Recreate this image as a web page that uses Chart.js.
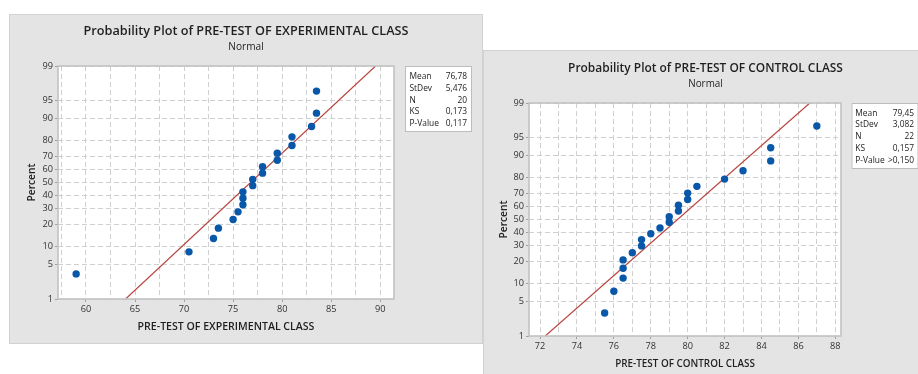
<!DOCTYPE html>
<html>
<head>
<meta charset="utf-8">
<script src="https://cdn.jsdelivr.net/npm/chart.js@4/dist/chart.umd.min.js"></script>
<style>
  html, body { margin: 0; padding: 0; background: #ffffff; }
  body { width: 918px; height: 374px; position: relative; overflow: hidden; }
  .panel { position: absolute; background: #e4e4e4; box-shadow: inset 0 0 0 1px #d2d2d2; }
  #p1 { left: 9px; top: 14px; width: 474px; height: 330px; }
  #p2 { left: 483px; top: 50px; width: 440px; height: 330px; }
  canvas { position: absolute; left: 0; top: 0; }
</style>
</head>
<body>
<div class="panel" id="p1"><canvas id="c1" width="474" height="330"></canvas></div>
<div class="panel" id="p2"><canvas id="c2" width="435" height="324"></canvas></div>
<script>
// ---------------- data ----------------
const percentTicks = [1, 5, 10, 20, 30, 40, 50, 60, 70, 80, 90, 95, 99];

// Experimental class
const expX   = [59, 70.5, 73, 73.5, 75, 75.5, 76, 76, 76, 77, 77, 78, 78, 79.5, 79.5, 81, 81, 83, 83.5, 83.5];
const expPct = [3.4, 8.3, 13.2, 18.1, 23.0, 27.9, 32.8, 37.7, 42.6, 47.5, 52.5, 57.4, 62.3, 67.2, 72.1, 77.0, 81.9, 86.8, 91.7, 96.6];
const expFitX = [64.04, 89.52];
const expFitPct = [1, 99];
const expXLabels = [60, 65, 70, 75, 80, 85, 90];
const expXGrid = [57.5, 60, 62.5, 65, 67.5, 70, 72.5, 75, 77.5, 80, 82.5, 85, 87.5, 90];
const expStatNames = ['Mean', 'StDev', 'N', 'KS', 'P-Value'];
const expStatValues = ['76,78', '5,476', '20', '0,173', '0,117'];

// Control class
const ctlX   = [75.5, 76, 76.5, 76.5, 76.5, 77, 77.5, 77.5, 78, 78.5, 79, 79, 79.5, 79.5, 80, 80, 80.5, 82, 83, 84.5, 84.5, 87];
const ctlPct = [3.1, 7.6, 12.1, 16.5, 21.0, 25.4, 29.9, 34.4, 38.8, 43.3, 47.8, 52.2, 56.7, 61.2, 65.6, 70.1, 74.6, 79.0, 83.5, 87.9, 92.4, 96.9];
const ctlFitX = [72.28, 86.62];
const ctlFitPct = [1, 99];
const ctlXLabels = [72, 74, 76, 78, 80, 82, 84, 86, 88];
const ctlXGrid = [72, 73, 74, 75, 76, 77, 78, 79, 80, 81, 82, 83, 84, 85, 86, 87, 88];
const ctlStatNames = ['Mean', 'StDev', 'N', 'KS', 'P-Value'];
const ctlStatValues = ['79,45', '3,082', '22', '0,157', '>0,150'];

// ---------------- normal probability scale ----------------
function probit(p) {
  const a=[-3.969683028665376e+01,2.209460984245205e+02,-2.759285104469687e+02,1.383577518672690e+02,-3.066479806614716e+01,2.506628277459239e+00];
  const b=[-5.447609879822406e+01,1.615858368580409e+02,-1.556989798598866e+02,6.680131188771972e+01,-1.328068155288572e+01];
  const c=[-7.784894002430293e-03,-3.223964580411365e-01,-2.400758277161838e+00,-2.549732539343734e+00,4.374664141464968e+00,2.938163982698783e+00];
  const d=[7.784695709041462e-03,3.224671290700398e-01,2.445134137142996e+00,3.754408661907416e+00];
  const pl = 0.02425, ph = 1 - pl;
  let q, r;
  if (p < pl) { q = Math.sqrt(-2*Math.log(p)); return (((((c[0]*q+c[1])*q+c[2])*q+c[3])*q+c[4])*q+c[5])/((((d[0]*q+d[1])*q+d[2])*q+d[3])*q+1); }
  if (p > ph) { q = Math.sqrt(-2*Math.log(1-p)); return -(((((c[0]*q+c[1])*q+c[2])*q+c[3])*q+c[4])*q+c[5])/((((d[0]*q+d[1])*q+d[2])*q+d[3])*q+1); }
  q = p - 0.5; r = q*q;
  return (((((a[0]*r+a[1])*r+a[2])*r+a[3])*r+a[4])*r+a[5])*q/(((((b[0]*r+b[1])*r+b[2])*r+b[3])*r+b[4])*r+1);
}
function ncdf(z) {
  const t = 1/(1+0.2316419*Math.abs(z));
  const y = t*(0.319381530+t*(-0.356563782+t*(1.781477937+t*(-1.821255978+t*1.330274429))));
  const v = 1 - Math.exp(-z*z/2)/Math.sqrt(2*Math.PI)*y;
  return z >= 0 ? v : 1 - v;
}
class ProbitScale extends Chart.Scale {
  determineDataLimits() { this.min = this.options.min; this.max = this.options.max; }
  buildTicks() { return percentTicks.map(v => ({ value: v })); }
  getLabelForValue(v) { return String(v); }
  configure() {
    super.configure();
    this._zmin = probit(this.min / 100);
    this._zmax = probit(this.max / 100);
  }
  getPixelForValue(v) {
    return this.getPixelForDecimal((probit(v / 100) - this._zmin) / (this._zmax - this._zmin));
  }
  getValueForPixel(px) {
    const dec = this.getDecimalForPixel(px);
    return 100 * ncdf(this._zmin + dec * (this._zmax - this._zmin));
  }
  getPixelForTick(i) { return this.getPixelForValue(this.ticks[i].value); }
}
ProbitScale.id = 'probit';
ProbitScale.defaults = {};
Chart.register(ProbitScale);

// ---------------- helpers ----------------
const FAMILY = '"Open Sans", "Noto Sans", sans-serif';
const mctx = document.createElement('canvas').getContext('2d');
function fitSize(text, weight, target) {
  mctx.font = weight + ' 100px ' + FAMILY;
  return 100 * target / mctx.measureText(text).width;
}

const decor = {
  id: 'decor',
  beforeDraw(chart, args, o) {
    const { ctx, chartArea: a } = chart;
    ctx.save();
    ctx.fillStyle = '#ffffff';
    ctx.fillRect(a.left, a.top, a.right - a.left, a.bottom - a.top);
    ctx.restore();
  },
  afterDraw(chart, args, o) {
    const { ctx, chartArea: a } = chart;
    ctx.save();
    ctx.strokeStyle = '#c2c2c2';
    ctx.lineWidth = 1.6;
    ctx.strokeRect(a.left, a.top, a.right - a.left, a.bottom - a.top);
    // title + subtitle
    ctx.fillStyle = '#1f1f1f';
    ctx.textAlign = 'center';
    ctx.textBaseline = 'middle';
    ctx.font = '600 ' + fitSize(o.title, 600, o.titleW).toFixed(2) + 'px ' + FAMILY;
    ctx.fillText(o.title, o.titleX, o.titleY);
    ctx.font = '500 ' + fitSize('Normal', 500, o.subW).toFixed(2) + 'px ' + FAMILY;
    ctx.fillText('Normal', o.titleX, o.subY);
    // stats box
    const b = o.box;
    ctx.fillStyle = '#ffffff';
    ctx.fillRect(b.x, b.y, b.w, b.h);
    ctx.strokeStyle = '#bdbdbd';
    ctx.lineWidth = 1;
    ctx.strokeRect(b.x + 0.5, b.y + 0.5, b.w - 1, b.h - 1);
    ctx.fillStyle = '#222222';
    ctx.font = '400 8.4px ' + FAMILY;
    o.names.forEach((n, i) => {
      const y = b.row0 + i * b.step;
      ctx.textAlign = 'left';
      ctx.fillText(n, b.labelX, y);
      ctx.textAlign = 'right';
      ctx.fillText(o.values[i], b.valueR, y);
    });
    ctx.restore();
  }
};

function makeChart(id, cfg) {
  const labelSet = cfg.xLabels;
  const xTitleSize = fitSize(cfg.xTitle, 600, cfg.xTitleW);
  const yTitleSize = fitSize('Percent', 600, cfg.yTitleW);
  const xlh = xTitleSize * 1.2, ylh = yTitleSize * 1.2;
  return new Chart(document.getElementById(id), {
    type: 'scatter',
    data: {
      datasets: [
        {
          data: cfg.xs.map((x, i) => ({ x: x, y: cfg.pcts[i] })),
          backgroundColor: '#0857a8',
          borderColor: '#0857a8',
          pointRadius: 3.7,
          pointBorderWidth: 0,
          showLine: false
        },
        {
          data: cfg.fitX.map((x, i) => ({ x: x, y: cfg.fitPct[i] })),
          borderColor: '#b8463f',
          borderWidth: 1.2,
          pointRadius: 0,
          showLine: true,
          fill: false
        }
      ]
    },
    options: {
      responsive: false,
      animation: false,
      events: [],
      devicePixelRatio: 1,
      layout: { padding: { left: 0, top: cfg.areaTop, right: cfg.padRight, bottom: 0 } },
      plugins: {
        legend: { display: false },
        tooltip: { enabled: false },
        decor: cfg.decor
      },
      scales: {
        x: {
          type: 'linear',
          min: cfg.xMin,
          max: cfg.xMax,
          afterBuildTicks: s => { s.ticks = cfg.xGrid.map(v => ({ value: v })); },
          afterFit: s => { s.height = cfg.xAxisH; },
          ticks: {
            autoSkip: false,
            maxRotation: 0,
            padding: 2,
            color: '#333333',
            font: { family: FAMILY, size: 9.2 },
            callback: v => (labelSet.includes(v) ? String(v) : '')
          },
          grid: {
            color: '#cfcfcf',
            lineWidth: 1,
            tickLength: 3,
            tickColor: c => (c.tick && labelSet.includes(c.tick.value) ? '#a0a0a0' : 'rgba(0,0,0,0)')
          },
          border: { display: false, dash: [5, 3] },
          title: {
            display: true,
            text: cfg.xTitle,
            color: '#1f1f1f',
            font: { family: FAMILY, size: xTitleSize, weight: 600 },
            padding: { top: 0, bottom: cfg.xTitleOffset - xlh / 2 }
          }
        },
        y: {
          type: 'probit',
          min: 1,
          max: 99,
          afterFit: s => { s.width = cfg.yAxisW; },
          ticks: {
            autoSkip: false,
            padding: 2,
            color: '#333333',
            font: { family: FAMILY, size: 9.2 }
          },
          grid: {
            color: '#cfcfcf',
            lineWidth: 1,
            tickLength: 3,
            tickColor: '#a0a0a0'
          },
          border: { display: false, dash: [5, 3] },
          title: {
            display: true,
            text: 'Percent',
            color: '#1f1f1f',
            font: { family: FAMILY, size: yTitleSize, weight: 600 },
            padding: { top: cfg.yTitleOffset - ylh / 2, bottom: 0 }
          }
        }
      }
    },
    plugins: [decor]
  });
}

makeChart('c1', {
  xs: expX, pcts: expPct, fitX: expFitX, fitPct: expFitPct,
  xLabels: expXLabels, xGrid: expXGrid,
  xMin: 57.15, xMax: 91.4,
  areaTop: 52, padRight: 89, xAxisH: 45, yAxisW: 49,
  xTitle: 'PRE-TEST OF EXPERIMENTAL CLASS', xTitleW: 177, xTitleOffset: 17,
  yTitleW: 38, yTitleOffset: 23,
  decor: {
    title: 'Probability Plot of PRE-TEST OF EXPERIMENTAL CLASS', titleW: 325,
    titleX: 237, titleY: 17.7, subY: 33, subW: 35.5,
    names: expStatNames, values: expStatValues,
    box: { x: 396, y: 52, w: 67, h: 66, labelX: 400.5, valueR: 458, row0: 62.7, step: 11.8 }
  }
});

makeChart('c2', {
  xs: ctlX, pcts: ctlPct, fitX: ctlFitX, fitPct: ctlFitPct,
  xLabels: ctlXLabels, xGrid: ctlXGrid,
  xMin: 71.4, xMax: 88.31,
  areaTop: 53, padRight: 77, xAxisH: 38, yAxisW: 46,
  xTitle: 'PRE-TEST OF CONTROL CLASS', xTitleW: 140, xTitleOffset: 10,
  yTitleW: 38, yTitleOffset: 21,
  decor: {
    title: 'Probability Plot of PRE-TEST OF CONTROL CLASS', titleW: 275,
    titleX: 222.5, titleY: 19, subY: 34, subW: 34.5,
    names: ctlStatNames, values: ctlStatValues,
    box: { x: 368.5, y: 53, w: 67, h: 66, labelX: 372.3, valueR: 431, row0: 63.3, step: 11.8 }
  }
});
</script>
</body>
</html>
